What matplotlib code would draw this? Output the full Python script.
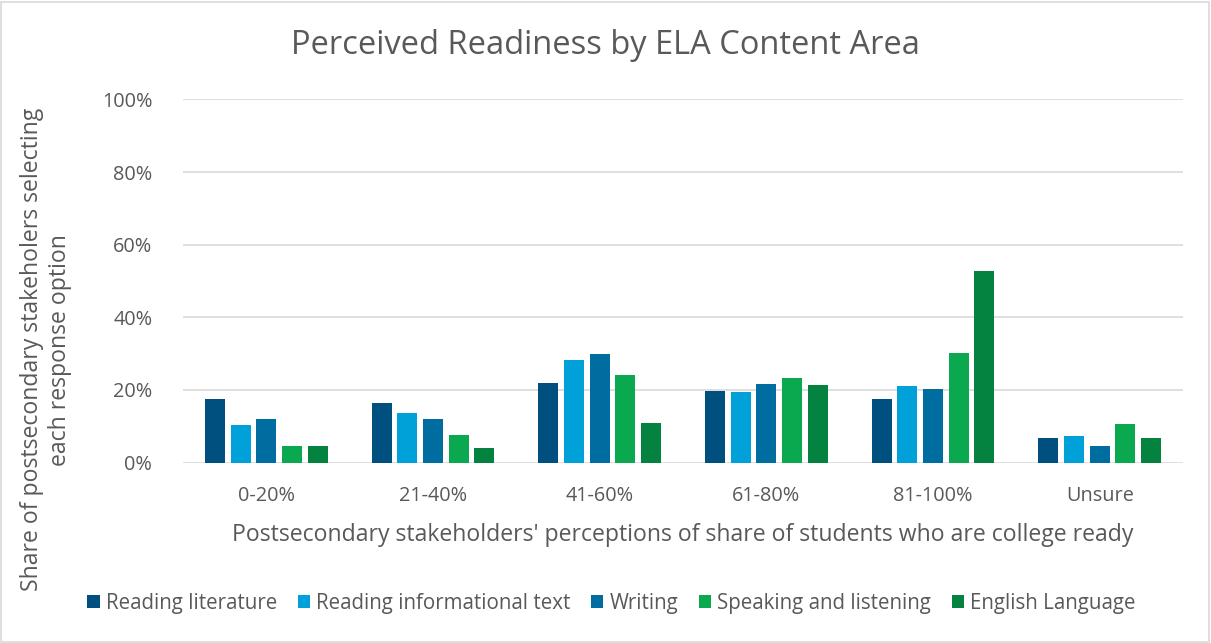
import matplotlib.pyplot as plt
import numpy as np
from matplotlib.patches import Rectangle

plt.rcParams['font.family'] = ['Open Sans', 'DejaVu Sans']

categories = ['0-20%', '21-40%', '41-60%', '61-80%', '81-100%', 'Unsure']
series = ['Reading literature', 'Reading informational text', 'Writing',
          'Speaking and listening', 'English Language']
reading_lit = [17.6, 16.5, 22.0, 19.8, 17.6, 6.7]
reading_info = [10.2, 13.7, 28.2, 19.5, 21.0, 7.3]
writing = [11.9, 11.9, 29.8, 21.6, 20.2, 4.5]
speaking = [4.5, 7.6, 24.1, 23.3, 30.1, 10.5]
english = [4.5, 3.9, 10.8, 21.3, 52.7, 6.8]
values = [reading_lit, reading_info, writing, speaking, english]
colors = ['#00507F', '#00A0D8', '#006DA0', '#0AA84F', '#048240']

fig = plt.figure(figsize=(12.11, 6.43), dpi=100)
fig.patches.append(Rectangle((0.001, 0.002), 0.997, 0.995, transform=fig.transFigure,
                             fill=False, edgecolor='#D9D9D9', lw=1.2))
ax = fig.add_axes([0.151, 0.2807, 0.826, 0.5646])

x = np.arange(len(categories))
w = 0.12
pitch = 0.154
for i, (name, vals, c) in enumerate(zip(series, values, colors)):
    ax.bar(x + (i - 2) * pitch, np.array(vals) / 100, width=w, color=c,
           label=name, zorder=3)

ax.set_xlim(-0.5, len(categories) - 0.5)
ax.set_ylim(0, 1)
ax.set_yticks(np.arange(0, 1.01, 0.2))
ax.set_yticklabels([f'{int(v*100)}%' for v in np.arange(0, 1.01, 0.2)])
ax.set_xticks(x)
ax.set_xticklabels(categories)
ax.grid(axis='y', color='#D9D9D9', lw=1.2, zorder=0)
for s in ax.spines.values():
    s.set_visible(False)
ax.tick_params(axis='both', length=0, labelsize=14.3, colors='#595959')
ax.tick_params(axis='x', pad=17)
ax.tick_params(axis='y', pad=22)

ax.set_xlabel("Postsecondary stakeholders' perceptions of share of students who are college ready",
              fontsize=16.6, color='#595959', labelpad=12)
fig.text(0.038, 0.456, 'Share of postsecondary stakeholers selecting\neach response option',
         rotation=90, ha='center', va='center', fontsize=16.6, color='#595959',
         linespacing=1.2)
fig.text(0.5, 0.93, 'Perceived Readiness by ELA Content Area', ha='center', va='center',
         fontsize=23.5, color='#595959')

fig.legend(loc='center', bbox_to_anchor=(0.505, 0.062), ncol=5, frameon=False,
           fontsize=14.8, labelcolor='#595959', handlelength=0.6, handleheight=0.6,
           handletextpad=0.3, columnspacing=1.0)

fig.savefig('out.png', dpi=100)
